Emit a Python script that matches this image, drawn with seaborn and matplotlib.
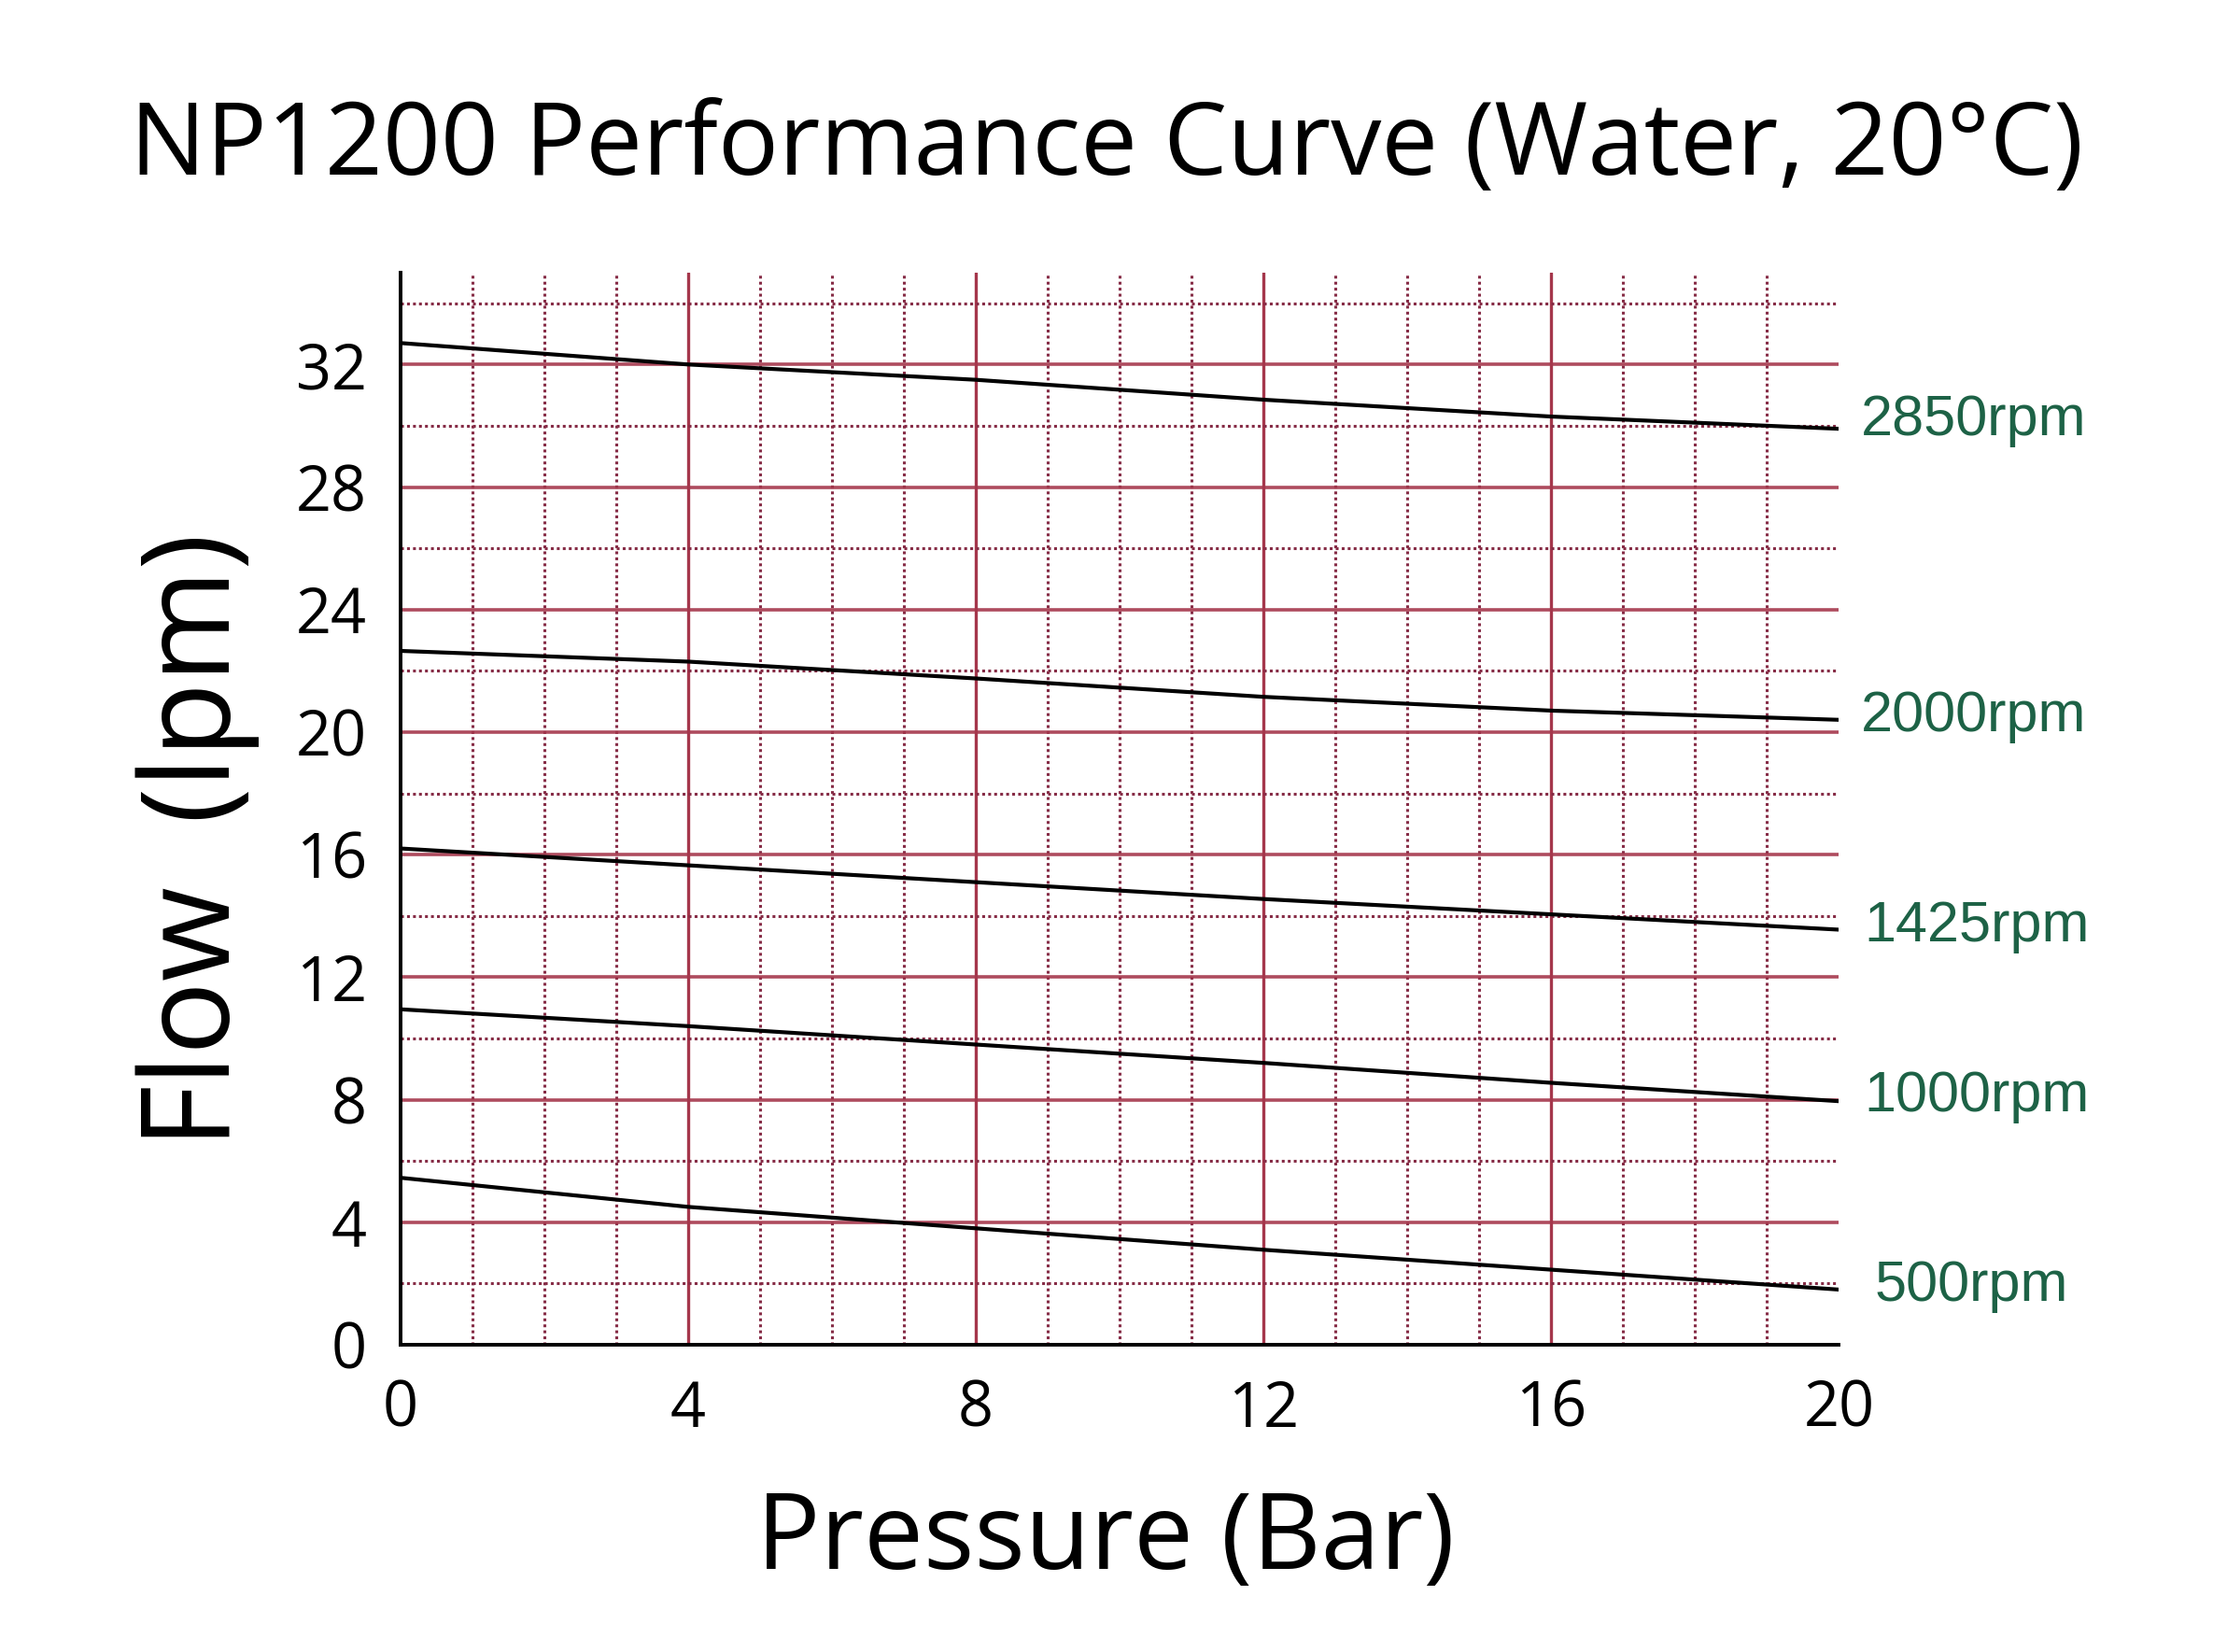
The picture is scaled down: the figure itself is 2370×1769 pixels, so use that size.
import pandas as pd
import seaborn as sns
import matplotlib.pyplot as plt
from matplotlib.ticker import MultipleLocator

# Pressure points (Bar) and flow readings (lpm) per pump speed
pressure = [0, 4, 8, 12, 16, 20]
flow_2850 = [32.7, 32.0, 31.5, 30.85, 30.3, 29.9]
flow_2000 = [22.65, 22.3, 21.75, 21.15, 20.7, 20.4]
flow_1425 = [16.2, 15.65, 15.1, 14.55, 14.05, 13.55]
flow_1000 = [10.95, 10.4, 9.8, 9.2, 8.55, 7.95]
flow_500 = [5.45, 4.5, 3.8, 3.1, 2.45, 1.8]
speeds = ['2850rpm', '2000rpm', '1425rpm', '1000rpm', '500rpm']
label_y = [30.15, 20.5, 13.65, 8.1, 1.9]
label_x = [20.3, 20.3, 20.35, 20.35, 20.5]

series = [flow_2850, flow_2000, flow_1425, flow_1000, flow_500]
rows = []
for name, vals in zip(speeds, series):
    for p, f in zip(pressure, vals):
        rows.append({'pressure': p, 'flow': f, 'speed': name})
df = pd.DataFrame(rows)

sns.set_style('white')
plt.rcParams['font.family'] = ['Open Sans', 'DejaVu Sans']
plt.rcParams['text.color'] = 'black'
plt.rcParams['axes.labelcolor'] = 'black'

fig = plt.figure(figsize=(23.7, 17.69), dpi=100)
ax = fig.add_axes([0.181, 0.186, 0.650, 0.649])

# grid first so the curves sit on top
grid_major = '#a5374c'
grid_minor = '#862c46'
for x in range(1, 20):
    if x % 4 == 0:
        ax.axvline(x, color=grid_major, lw=2.4, zorder=1)
    else:
        ax.axvline(x, color=grid_minor, lw=2.2, ls=(0, (1, 1.1)), zorder=1)
for y in range(2, 35, 2):
    if y % 4 == 0:
        ax.plot([0, 20], [y, y], color=grid_major, lw=2.6, zorder=1, alpha=0.9)
    else:
        ax.plot([0, 20], [y, y], color=grid_minor, lw=2.2, ls=(0, (1, 1.1)), zorder=1)

sns.lineplot(data=df, x='pressure', y='flow', hue='speed', palette=['black'] * 5,
             legend=False, ax=ax, lw=3.0, zorder=3)

for name, lx, ly in zip(speeds, label_x, label_y):
    ax.text(lx, ly, name, color='#1d6246', fontsize=44, va='center', ha='left',
            family=['Liberation Sans', 'DejaVu Sans'], clip_on=False)

ax.set_xlim(0, 20)
ax.set_ylim(0, 35)
ax.xaxis.set_major_locator(MultipleLocator(4))
ax.xaxis.set_minor_locator(MultipleLocator(1))
ax.yaxis.set_major_locator(MultipleLocator(4))
ax.yaxis.set_minor_locator(MultipleLocator(2))
ax.tick_params(axis='both', which='major', direction='out', length=18, width=2.4,
               labelsize=48, colors='black', pad=8)
ax.tick_params(axis='both', which='minor', direction='out', length=11, width=2.2)

for side in ['top', 'right']:
    ax.spines[side].set_visible(False)
for side in ['left', 'bottom']:
    ax.spines[side].set_color('black')
    ax.spines[side].set_linewidth(2.8)

ax.set_xlabel('Pressure (Bar)', fontsize=82)
ax.xaxis.set_label_coords(0.49, -0.134)
ax.set_ylabel('Flow  (lpm)', fontsize=94)
ax.yaxis.set_label_coords(-0.098, 0.47)
fig.text(0.5, 0.91, 'NP1200 Performance Curve (Water, 20°C)', fontsize=78,
         ha='center', va='center')

plt.savefig('out.png', dpi=100, facecolor='white')
